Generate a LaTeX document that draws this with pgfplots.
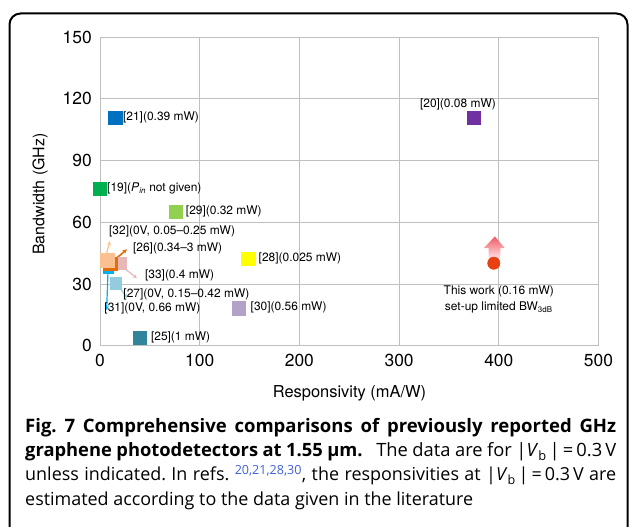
\documentclass[border=0pt]{standalone}
\usepackage{fontspec}
\setmainfont{TeX Gyre Heros}
\newfontfamily\capfont{Open Sans}
\usepackage{pgfplots}
\pgfplotsset{compat=1.18}
\usetikzlibrary{arrows.meta}
\definecolor{c21}{RGB}{0,112,192}
\definecolor{c20}{RGB}{112,48,160}
\definecolor{c19}{RGB}{0,176,80}
\definecolor{c29}{RGB}{146,208,80}
\definecolor{c28}{RGB}{255,255,0}
\definecolor{c30}{RGB}{178,162,199}
\definecolor{c25}{RGB}{49,133,155}
\definecolor{c32}{RGB}{250,192,144}
\definecolor{c26}{RGB}{228,108,10}
\definecolor{c33}{RGB}{230,185,184}
\definecolor{c27}{RGB}{147,205,221}
\definecolor{c31}{RGB}{0,176,240}
\definecolor{cthis}{RGB}{232,64,16}
\definecolor{refblue}{RGB}{64,96,224}
\newcommand{\lbl}{\fontsize{12}{14}\selectfont}
\begin{document}
\frenchspacing
\begin{tikzpicture}
\useasboundingbox (0,0) rectangle (629bp,527bp);
\fill[white] (0,0) rectangle (629bp,527bp);
\draw[line width=2bp, rounded corners=11bp] (9.5bp,513.5bp) rectangle (627.5bp,-40bp);
\begin{axis}[at={(100bp,181.3bp)}, anchor=south west, scale only axis,
  width=498.5bp, height=308.7bp,
  xmin=0, xmax=500, ymin=0, ymax=150,
  xtick={0,100,200,300,400,500}, ytick={0,30,60,90,120,150},
  grid=major, grid style={draw=black!25, line width=0.9bp},
  axis line style={draw=black!25, line width=0.9bp},
  major tick length=0pt, tick style={draw=none},
  ticklabel style={font=\fontsize{17.5}{20}\selectfont},
  /pgf/number format/assume math mode=true,
  yticklabel style={inner sep=0pt, xshift=-8bp},
  xticklabel style={inner sep=0pt, yshift=-8bp},
  clip=false]
% single points
\addplot[only marks, mark=square*, mark size=6.8bp, color=c21] coordinates {(15,110.8)};
\addplot[only marks, mark=square*, mark size=6.5bp, color=c20] coordinates {(375,110.8)};
\addplot[only marks, mark=square*, mark size=6.5bp, color=c19] coordinates {(0,76.5)};
\addplot[only marks, mark=square*, mark size=6.5bp, color=c29] coordinates {(76,65.3)};
\addplot[only marks, mark=square*, mark size=6.6bp, color=c28] coordinates {(148.6,42.2)};
\addplot[only marks, mark=square*, mark size=6.6bp, color=c30] coordinates {(139.3,18.2)};
\addplot[only marks, mark=square*, mark size=6.8bp, color=c25] coordinates {(40,3.9)};
% cluster
\addplot[only marks, mark=square*, mark size=5.8bp, color=c27] coordinates {(15.7,30.4)};
\addplot[only marks, mark=square*, mark size=6bp, color=c33] coordinates {(20,40.2)};
\addplot[only marks, mark=square*, mark size=5bp, color=c31] coordinates {(8,37.6)};
\addplot[only marks, mark=square*, mark size=6.5bp, color=c26] coordinates {(10.8,40.0)};
\addplot[only marks, mark=square*, mark size=6.7bp, color=c32] coordinates {(7.2,41.6)};
% arrows
\draw[c32, line width=1.2bp, -{Stealth[length=4bp,width=4bp]}] (axis cs:6.7,45.1) -- (axis cs:10,50.8);
\draw[c26, line width=1.6bp, -{Stealth[length=4.5bp,width=4.5bp]}] (axis cs:16.7,42.6) -- (axis cs:27,46.8);
\draw[c33, line width=1.2bp, -{Stealth[length=4bp,width=4bp]}] (axis cs:20,39.3) -- (axis cs:37,32.8);
\draw[c27, line width=1.2bp, -{Stealth[length=4bp,width=4bp]}] (axis cs:20,28.2) -- (axis cs:27,23.2);
\draw[c31, line width=1.2bp, -{Stealth[length=4bp,width=4bp]}] (axis cs:8,36) -- (axis cs:6.7,17.3);
% this work
\shade[top color={rgb,255:red,240;green,90;blue,100}, bottom color={rgb,255:red,255;green,222;blue,226}]
  (axis cs:389.8,42.7) -- (axis cs:389.8,47.4) -- (axis cs:385,47.4) -- (axis cs:396,53.1)
  -- (axis cs:406,47.4) -- (axis cs:401.5,47.4) -- (axis cs:401.5,42.7) -- cycle;
\addplot[only marks, mark=*, mark size=6.2bp, color=cthis] coordinates {(395,40.1)};
% labels
\node[anchor=west, font=\lbl, inner sep=0pt] at (axis cs:23,110.7) {[21](0.39 mW)};
\node[anchor=center, font=\lbl, inner sep=0pt] at (axis cs:359,117.2) {[20](0.08 mW)};
\node[anchor=west, font=\lbl, inner sep=0pt] at (axis cs:7,76.5) {[19](\textit{P}\textsubscript{\textit{in}} not given)};
\node[anchor=west, font=\lbl, inner sep=0pt] at (axis cs:86,65.2) {[29](0.32 mW)};
\node[anchor=west, font=\lbl, inner sep=0pt] at (axis cs:159,42.2) {[28](0.025 mW)};
\node[anchor=west, font=\lbl, inner sep=0pt] at (axis cs:151,18.4) {[30](0.56 mW)};
\node[anchor=west, font=\lbl, inner sep=0pt] at (axis cs:51,4.0) {[25](1 mW)};
\node[anchor=west, font=\lbl, inner sep=0pt] at (axis cs:9,55.5) {[32](0V, 0.05--0.25 mW)};
\node[anchor=west, font=\lbl, inner sep=0pt] at (axis cs:33,47.4) {[26](0.34--3 mW)};
\node[anchor=west, font=\lbl, inner sep=0pt] at (axis cs:45,34.1) {[33](0.4 mW)};
\node[anchor=west, font=\lbl, inner sep=0pt] at (axis cs:23.3,25.1) {[27](0V, 0.15--0.42 mW)};
\node[anchor=west, font=\lbl, inner sep=0pt] at (axis cs:4.3,18.3) {[31](0V, 0.66 mW)};
\node[anchor=center, font=\lbl, inner sep=0pt] at (axis cs:400,26.2) {This work (0.16 mW)};
\node[anchor=center, font=\lbl, inner sep=0pt] at (axis cs:400,18.6) {set-up limited BW\textsubscript{3dB}};
\end{axis}
\node[rotate=90, font=\fontsize{16}{19}\selectfont] at (40bp,333bp) {Bandwidth (GHz)};
\node[font=\fontsize{16.5}{19}\selectfont] at (349.5bp,134bp) {Responsivity (mA/W)};
% caption
\begin{scope}[every node/.style={anchor=base west, inner sep=0pt}]
\node[font=\capfont\fontsize{18.6}{24}\selectfont] at (25bp,94bp) {\hbox to 591bp{\bfseries Fig. 7 Comprehensive comparisons of previously reported GHz}};
\node[font=\capfont\fontsize{18.4}{24}\selectfont] at (25bp,70bp) {\hbox to 591bp{{\bfseries graphene photodetectors at 1.55 µm.}\hspace{0.5em} The data are for |\textit{V}\textsubscript{b}\,|\,=\,0.3\,V}};
\node[font=\capfont\fontsize{18}{24}\selectfont] at (25bp,46bp) {\hbox to 591bp{unless indicated. In refs. \textsuperscript{\color{refblue}20,21,28,30}, the responsivities at |\textit{V}\textsubscript{b}\,|\,=\,0.3\,V are}};
\node[font=\capfont\fontsize{18}{24}\selectfont] at (25bp,22bp) {estimated according to the data given in the literature};
\end{scope}
\end{tikzpicture}
\end{document}
